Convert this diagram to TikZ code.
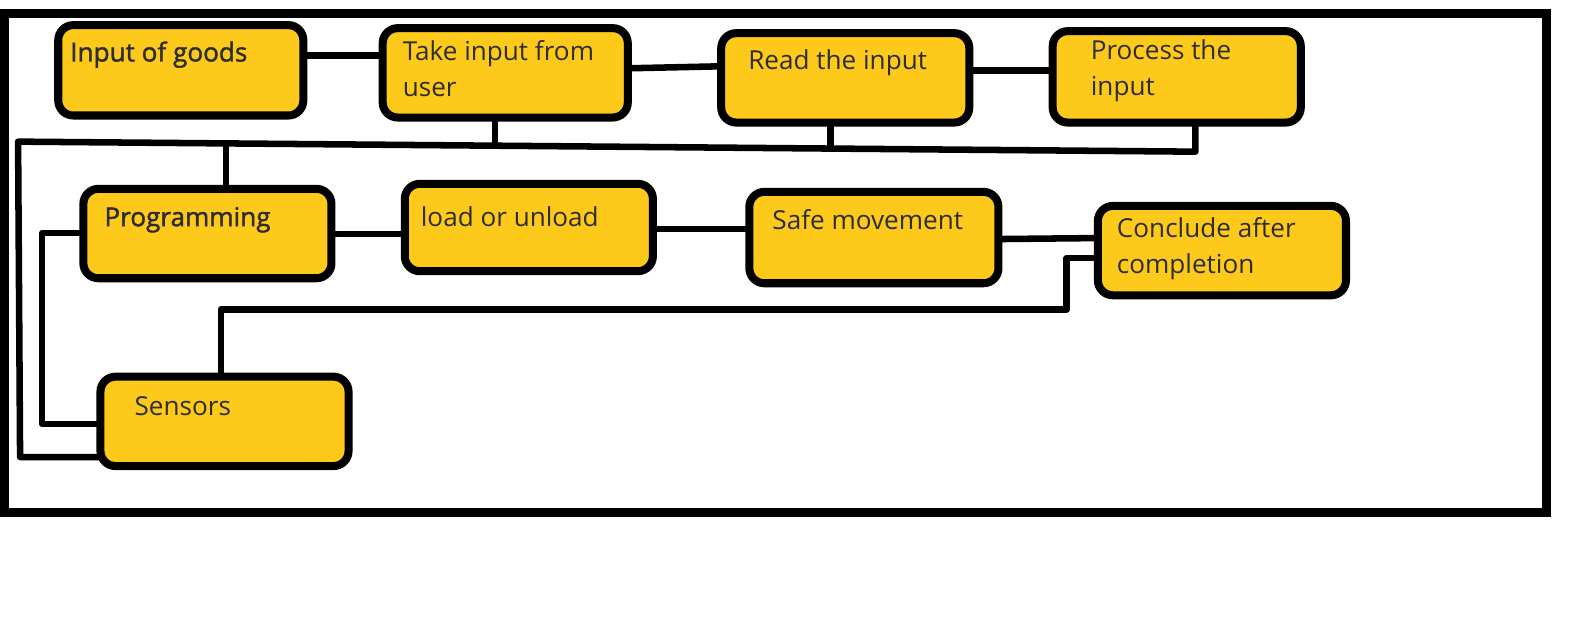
\documentclass[tikz,border=0pt]{standalone}
\usepackage{fontspec}
\setmainfont{Open Sans}
\newfontfamily\semib[FakeBold=1.6]{Open Sans}
\usetikzlibrary{calc}
\definecolor{boxyellow}{RGB}{253,201,26}
\definecolor{txtdark}{RGB}{45,45,50}
\newcommand{\bxt}[5]{\begin{minipage}[t][#2pt][t]{#1pt}\vspace*{#4pt}\hspace*{#3pt}\begin{tabular}[t]{@{}l@{}}#5\end{tabular}\end{minipage}}
\begin{document}
\begin{tikzpicture}[x=1pt,y=-1pt,
  box/.style={draw=black, line width=8pt, fill=boxyellow, rounded corners=15pt,
    inner sep=0pt, outer sep=0pt, anchor=north west, text=txtdark,
    font=\fontsize{26}{36}\selectfont},
  conn/.style={draw=black, line width=6.5pt, line join=round},
  outerframe/.style={draw=black, line width=9pt}]
\useasboundingbox (0,0) rectangle (1568,626);
\fill[white] (0,0) rectangle (1568,626);
\draw[outerframe] (4.5,13) rectangle (1540,510);

\node[box] (inp)  at (58,25)   {\bxt{244}{90}{12}{11}{\semib Input of goods}};
\node[box] (take) at (381,28)  {\bxt{244}{89}{20}{7}{Take input from\\user}};
\node[box] (read) at (718,33)  {\bxt{247}{89}{27}{11}{Read the input}};
\node[box] (proc) at (1048,31) {\bxt{247}{91}{38}{3}{Process the\\input}};
\node[box] (prog) at (83,188)  {\bxt{247}{89}{21}{12}{\semib Programming}};
\node[box] (load) at (403,183) {\bxt{247}{87}{16}{17}{load or unload}};
\node[box] (safe) at (746,191) {\bxt{248}{91}{23}{12}{Safe movement}};
\node[box] (conc) at (1093,205){\bxt{247}{89}{19}{6}{Conclude after\\completion}};
\node[box] (sens) at (100,375) {\bxt{247}{89}{34}{13}{Sensors}};

\coordinate (busL) at (18,141);
\coordinate (busLL) at (20,455);

% top row
\draw[conn] ([yshift=-30pt]inp.north east) -- ([yshift=-27pt]take.north west);
\draw[conn] ([yshift=-40pt]take.north east) -- ([yshift=-33pt]read.north west);
\draw[conn] ([yshift=-37pt]read.north east) -- ([yshift=-39pt]proc.north west);
% bus
\draw[conn] ([xshift=142pt]proc.south west) -- ++(0,29) -- (busL) -- (busLL)
  -- ([yshift=-80pt]sens.north west);
\draw[conn] ([xshift=112pt]take.south west) -- ++(0,28);
\draw[conn] ([xshift=109pt]read.south west) -- ++(0,26);
\draw[conn] ([xshift=142pt]prog.north west) -- ++(0,-46);
% middle row
\draw[conn] ([yshift=-44pt]prog.north west) -- ++(-41,0) |- ([yshift=-47pt]sens.north west);
\draw[conn] ([yshift=-45pt]prog.north east) -- ([yshift=-50pt]load.north west);
\draw[conn] ([yshift=-45pt]load.north east) -- ([yshift=-37pt]safe.north west);
\draw[conn] ([yshift=-47pt]safe.north east) -- ([yshift=-32pt]conc.north west);
\draw[conn] ([yshift=-52pt]conc.north west) -- ++(-31,0) -- ++(0,51) -| ([xshift=120pt]sens.north west);
\end{tikzpicture}
\end{document}
